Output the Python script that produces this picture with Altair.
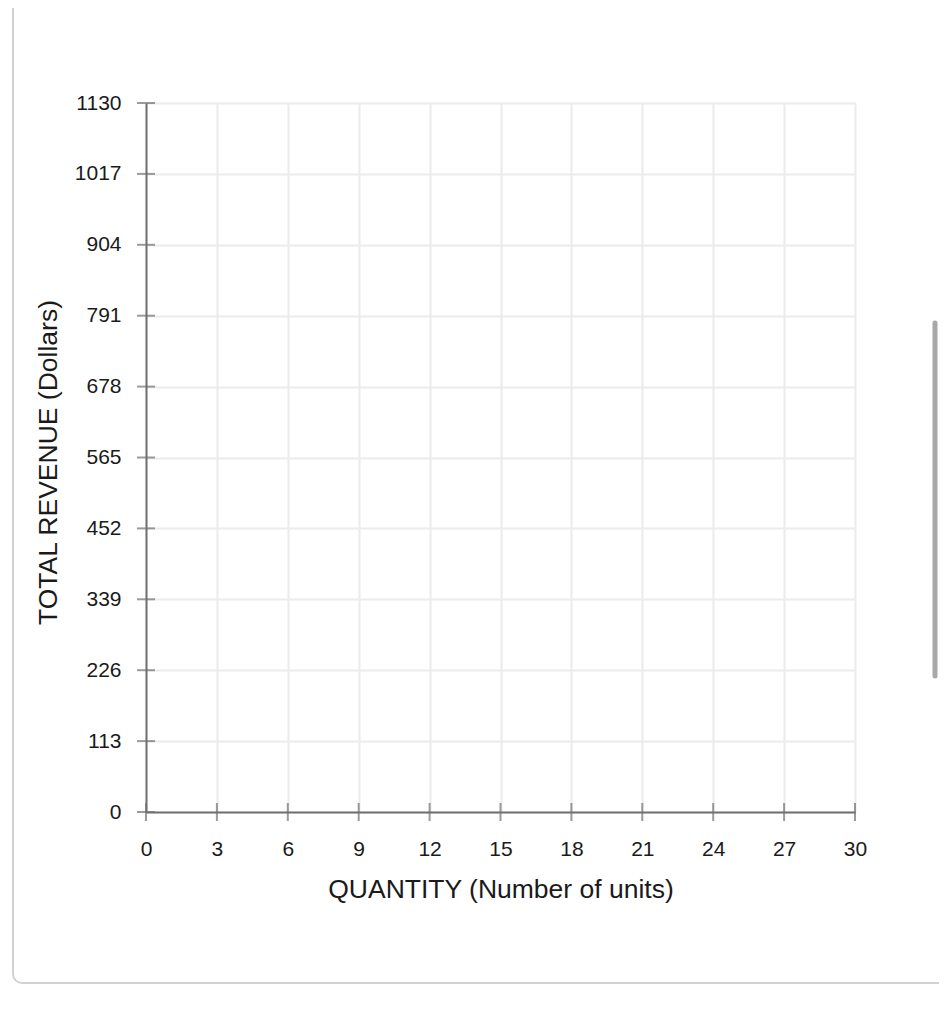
import altair as alt
import pandas as pd

# Axis tick values
quantity_ticks = [0, 3, 6, 9, 12, 15, 18, 21, 24, 27, 30]
revenue_ticks = [0, 113, 226, 339, 452, 565, 678, 791, 904, 1017, 1130]

x_title = "QUANTITY (Number of units)"
y_title = "TOTAL REVENUE (Dollars)"

W, H = 709, 709
AXIS_COLOR = "#707070"
GRID_COLOR = "#ebebeb"
FONT = "Liberation Sans"

df_x = pd.DataFrame({"q": quantity_ticks})
df_y = pd.DataFrame({"r": revenue_ticks})

x_scale = alt.Scale(domain=[0, 30], nice=False, zero=True)
y_scale = alt.Scale(domain=[0, 1130], nice=False, zero=True)

x_axis = alt.Axis(
    values=quantity_ticks, format="d", title=x_title, grid=True, gridColor=GRID_COLOR, gridWidth=2,
    ticks=False, domainColor=AXIS_COLOR, domainWidth=2,
    labelFont=FONT, labelFontSize=21, labelColor="#1a1a1a", labelPadding=26,
    titleFont=FONT, titleFontSize=26.5, titleFontWeight="normal", titleColor="#1a1a1a",
    titleBaseline="alphabetic", titleY=85, labelFlush=False, labelOverlap=False,
)
y_axis = alt.Axis(
    values=revenue_ticks, format="d", title=y_title, grid=True, gridColor=GRID_COLOR, gridWidth=2,
    ticks=False, domainColor=AXIS_COLOR, domainWidth=2,
    labelFont=FONT, labelFontSize=21, labelColor="#1a1a1a", labelPadding=25,
    titleFont=FONT, titleFontSize=26.5, titleFontWeight="normal", titleColor="#1a1a1a",
    titleBaseline="middle", titleAngle=270, titleX=-98, titleY=359,
    labelFlush=False, labelOverlap=False,
)

# Frame (card border) and scrollbar decoration
frame = alt.Chart(pd.DataFrame({"k": [0]})).mark_rect(
    fill="transparent", stroke="#d2d2d2", strokeWidth=2, cornerRadius=9
).encode(
    x=alt.value(-133), x2=alt.value(1000), y=alt.value(-200), y2=alt.value(880)
)
scrollbar = alt.Chart(pd.DataFrame({"k": [0]})).mark_rule(
    color="#a8a8a8", strokeWidth=5, strokeCap="round"
).encode(
    x=alt.value(789), y=alt.value(220), y2=alt.value(573)
)

xticks = alt.Chart(df_x).mark_tick(
    orient="vertical", color=AXIS_COLOR, size=18, thickness=2
).encode(
    x=alt.X("q:Q", scale=x_scale, axis=x_axis),
    y=alt.value(H),
)
yticks = alt.Chart(df_y).mark_tick(
    orient="horizontal", color=AXIS_COLOR, size=18, thickness=2
).encode(
    y=alt.Y("r:Q", scale=y_scale, axis=y_axis),
    x=alt.value(0),
)

chart = alt.layer(frame, scrollbar, xticks, yticks).properties(
    width=W, height=H,
    autosize=alt.AutoSizeParams(type="none"),
    padding={"left": 138, "top": 95, "right": 84, "bottom": 200},
).configure_view(strokeWidth=0).configure(background="white")

chart.save("out.html", embed_options={"renderer": "svg", "actions": False})
